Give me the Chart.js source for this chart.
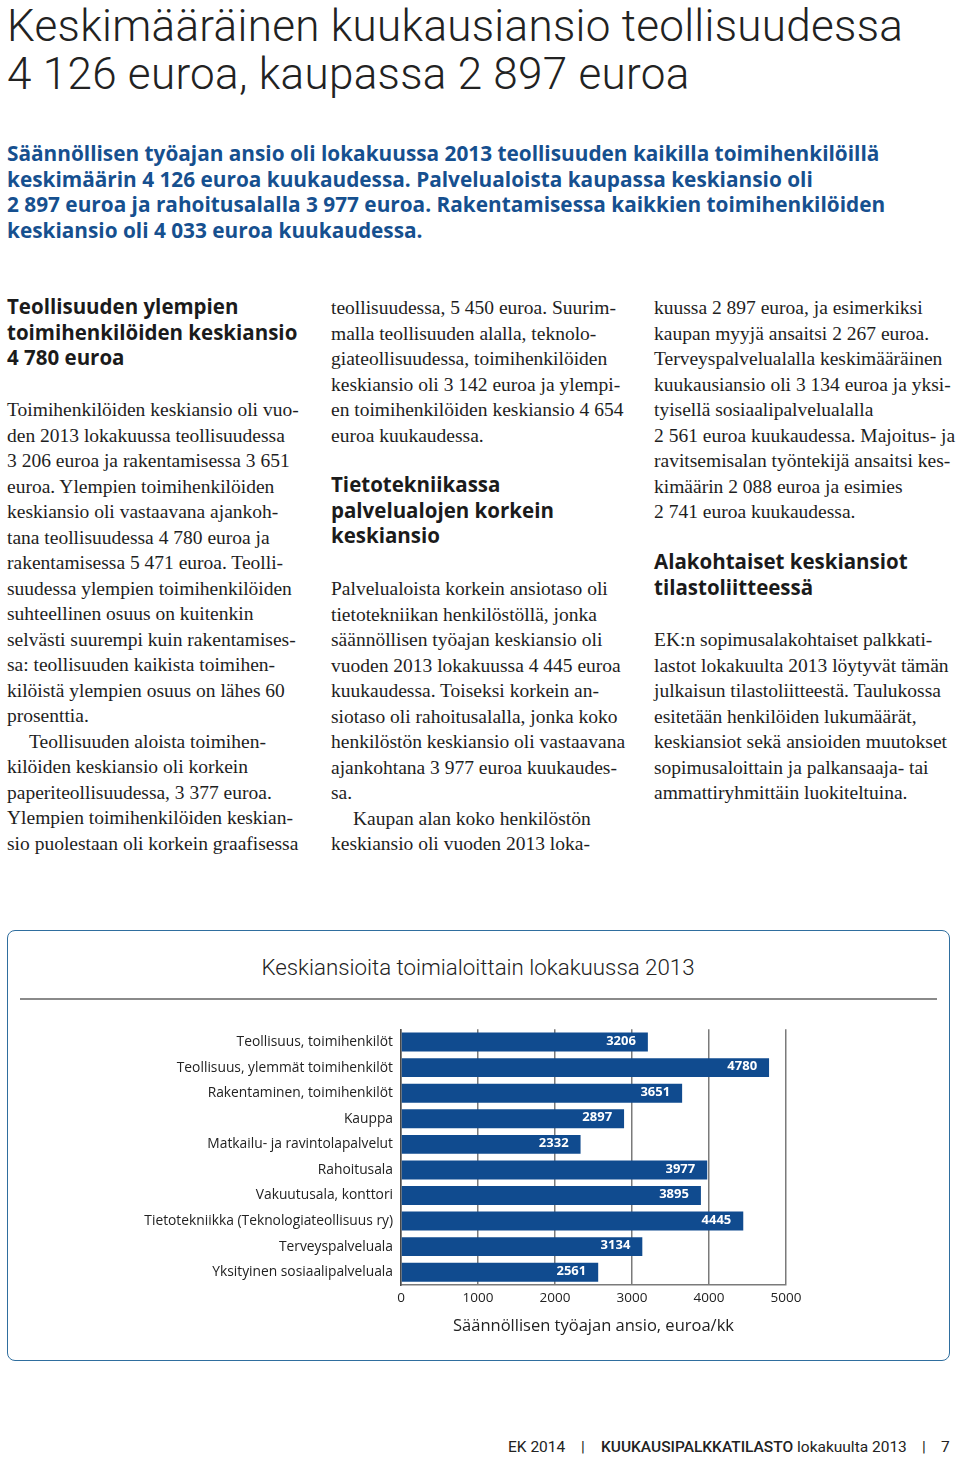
<!DOCTYPE html>
<html lang="fi">
<head>
<meta charset="utf-8">
<title>Keskiansioita toimialoittain lokakuussa 2013</title>
<script src="https://cdn.jsdelivr.net/npm/chart.js@4"></script>
<style>
  body { margin: 0; width: 960px; height: 1457px; position: relative; background: #fff; overflow: hidden; }
  .abs { position: absolute; white-space: nowrap; }
  .otsikko { left: 7px; font-family: "Roboto", sans-serif; font-weight: 300; font-size: 44px; line-height: normal; letter-spacing: 0.3px; color: #222; }
  .ingressi { left: 7px; top: 141px; font-family: "Open Sans", sans-serif; font-weight: 700; font-size: 20.8px; line-height: 25.6px; color: #16508f; }
  .vali { font-family: "Open Sans", sans-serif; font-weight: 700; font-size: 20.5px; line-height: 25.5px; color: #1b1b1b; }
  .leipa { font-family: "Liberation Serif", "Times New Roman", serif; font-size: 19.5px; line-height: 25.5px; color: #1e1e1e; }
  .sis { padding-left: 22px; }
  #laatikko { position: absolute; left: 7px; top: 930px; width: 941px; height: 429px; border: 1.5px solid #2f6e9e; border-radius: 8px; }
  #kaavionOtsikko { left: 0; width: 956px; text-align: center; top: 953px; font-family: "Roboto", sans-serif; font-weight: 300; font-size: 22.3px; line-height: 28px; color: #222; }
  #viiva { position: absolute; left: 20px; top: 998px; width: 917px; height: 1.5px; background: #8a8a8a; }
  #kaavio { position: absolute; left: 20px; top: 1013px; width: 800px; height: 330px; }
  .ala { top: 1437px; font-family: "Roboto", sans-serif; font-size: 15.5px; line-height: 20px; color: #222; }
</style>
</head>
<body>

<div class="abs otsikko" style="top:0px">Keskimääräinen kuukausiansio teollisuudessa</div>
<div class="abs otsikko" style="top:48px">4 126 euroa, kaupassa 2 897 euroa</div>

<div class="abs ingressi">Säännöllisen työajan ansio oli lokakuussa 2013 teollisuuden kaikilla toimihenkilöillä<br>keskimäärin 4 126 euroa kuukaudessa. Palvelualoista kaupassa keskiansio oli<br>2 897 euroa ja rahoitusalalla 3 977 euroa. Rakentamisessa kaikkien toimihenkilöiden<br>keskiansio oli 4 033 euroa kuukaudessa.</div>

<!-- palsta 1 -->
<div class="abs vali" style="left:7px; top:294px">Teollisuuden ylempien<br>toimihenkilöiden keskiansio<br>4 780 euroa</div>
<div class="abs leipa" style="left:7px; top:397px">Toimihenkilöiden keskiansio oli vuo-<br>den 2013 lokakuussa teollisuudessa<br>3 206 euroa ja rakentamisessa 3 651<br>euroa. Ylempien toimihenkilöiden<br>keskiansio oli vastaavana ajankoh-<br>tana teollisuudessa 4 780 euroa ja<br>rakentamisessa 5 471 euroa. Teolli-<br>suudessa ylempien toimihenkilöiden<br>suhteellinen osuus on kuitenkin<br>selvästi suurempi kuin rakentamises-<br>sa: teollisuuden kaikista toimihen-<br>kilöistä ylempien osuus on lähes 60<br>prosenttia.<br><span class="sis">Teollisuuden aloista toimihen-</span><br>kilöiden keskiansio oli korkein<br>paperiteollisuudessa, 3 377 euroa.<br>Ylempien toimihenkilöiden keskian-<br>sio puolestaan oli korkein graafisessa</div>

<!-- palsta 2 -->
<div class="abs leipa" style="left:331px; top:295px">teollisuudessa, 5 450 euroa. Suurim-<br>malla teollisuuden alalla, teknolo-<br>giateollisuudessa, toimihenkilöiden<br>keskiansio oli 3 142 euroa ja ylempi-<br>en toimihenkilöiden keskiansio 4 654<br>euroa kuukaudessa.</div>
<div class="abs vali" style="left:331px; top:472px">Tietotekniikassa<br>palvelualojen korkein<br>keskiansio</div>
<div class="abs leipa" style="left:331px; top:576px">Palvelualoista korkein ansiotaso oli<br>tietotekniikan henkilöstöllä, jonka<br>säännöllisen työajan keskiansio oli<br>vuoden 2013 lokakuussa 4 445 euroa<br>kuukaudessa. Toiseksi korkein an-<br>siotaso oli rahoitusalalla, jonka koko<br>henkilöstön keskiansio oli vastaavana<br>ajankohtana 3 977 euroa kuukaudes-<br>sa.<br><span class="sis">Kaupan alan koko henkilöstön</span><br>keskiansio oli vuoden 2013 loka-</div>

<!-- palsta 3 -->
<div class="abs leipa" style="left:654px; top:295px">kuussa 2 897 euroa, ja esimerkiksi<br>kaupan myyjä ansaitsi 2 267 euroa.<br>Terveyspalvelualalla keskimääräinen<br>kuukausiansio oli 3 134 euroa ja yksi-<br>tyisellä sosiaalipalvelualalla<br>2 561 euroa kuukaudessa. Majoitus- ja<br>ravitsemisalan työntekijä ansaitsi kes-<br>kimäärin 2 088 euroa ja esimies<br>2 741 euroa kuukaudessa.</div>
<div class="abs vali" style="left:654px; top:549px">Alakohtaiset keskiansiot<br>tilastoliitteessä</div>
<div class="abs leipa" style="left:654px; top:627px">EK:n sopimusalakohtaiset palkkati-<br>lastot lokakuulta 2013 löytyvät tämän<br>julkaisun tilastoliitteestä. Taulukossa<br>esitetään henkilöiden lukumäärät,<br>keskiansiot sekä ansioiden muutokset<br>sopimusaloittain ja palkansaaja- tai<br>ammattiryhmittäin luokiteltuina.</div>

<!-- kaavio -->
<div id="laatikko"></div>
<div class="abs" id="kaavionOtsikko">Keskiansioita toimialoittain lokakuussa 2013</div>
<div id="viiva"></div>
<canvas id="kaavio" width="800" height="330"></canvas>

<!-- alatunniste -->
<div class="abs ala" style="left:508px">EK 2014</div>
<div class="abs ala" style="left:581px">|</div>
<div class="abs ala" style="left:601px"><span style="font-weight:500">KUUKAUSIPALKKATILASTO</span> lokakuulta 2013</div>
<div class="abs ala" style="left:922px">|</div>
<div class="abs ala" style="left:941px">7</div>

<script>
// toimialat ja keskiansiot (euroa/kk), lokakuu 2013
const toimialat = [
    "Teollisuus, toimihenkilöt",
    "Teollisuus, ylemmät toimihenkilöt",
    "Rakentaminen, toimihenkilöt",
    "Kauppa",
    "Matkailu- ja ravintolapalvelut",
    "Rahoitusala",
    "Vakuutusala, konttori",
    "Tietotekniikka (Teknologiateollisuus ry)",
    "Terveyspalveluala",
    "Yksityinen sosiaalipalveluala"
];
const keskiansiot = [3206, 4780, 3651, 2897, 2332, 3977, 3895, 4445, 3134, 2561];
const xTikit = [0, 1000, 2000, 3000, 4000, 5000];

// arvot valkoisella palkin sisään oikeaan reunaan
const arvoTekstit = {
    id: "arvoTekstit",
    afterDatasetsDraw(chart) {
        const ctx = chart.ctx;
        const meta = chart.getDatasetMeta(0);
        ctx.save();
        ctx.fillStyle = "#ffffff";
        ctx.font = "bold 13px 'Open Sans', sans-serif";
        ctx.textAlign = "right";
        ctx.textBaseline = "middle";
        meta.data.forEach(function (palkki, i) {
            ctx.fillText(String(keskiansiot[i]), palkki.x - 12, palkki.y - 1);
        });
        ctx.restore();
    }
};

let ctx = document.getElementById("kaavio").getContext("2d");
let kaavio = new Chart(ctx, {
    type: 'bar',
    data: {
        labels: toimialat,
        datasets: [{
            data: keskiansiot,
            backgroundColor: '#104b8f',
            borderWidth: 0,
            barPercentage: 0.74,
            categoryPercentage: 1.0
        }]
    },
    options: {
        indexAxis: 'y',
        responsive: false,
        animation: false,
        layout: {
            padding: { top: 8, right: 34, bottom: 7, left: 0 }
        },
        plugins: {
            legend: { display: false },
            tooltip: { enabled: false }
        },
        scales: {
            x: {
                min: 0,
                max: 5000,
                afterBuildTicks: function (scale) {
                    scale.ticks = xTikit.map(v => ({ value: v }));
                },
                grid: { color: '#7a7a7a', lineWidth: 1.5, drawTicks: false },
                border: { display: true, color: '#7a7a7a', width: 1.5 },
                ticks: {
                    padding: 5,
                    color: '#222',
                    font: { family: 'Open Sans', size: 13.5 },
                    callback: function (v) { return String(v); }
                },
                title: {
                    display: true,
                    text: 'Säännöllisen työajan ansio, euroa/kk',
                    color: '#222',
                    font: { family: 'Open Sans', size: 16.5 },
                    padding: { top: 5, bottom: 0 }
                }
            },
            y: {
                afterFit: function (scale) { scale.width = 381; },
                grid: { display: false, drawTicks: false },
                border: { display: true, color: '#4a4a4a', width: 1.5 },
                ticks: {
                    padding: 8,
                    color: '#222',
                    font: { family: 'Open Sans', size: 13.8 }
                }
            }
        }
    },
    plugins: [arvoTekstit]
});
</script>
</body>
</html>
